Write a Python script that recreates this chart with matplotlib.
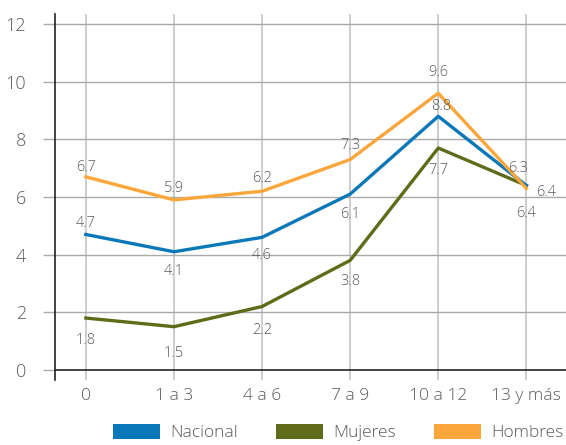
import numpy as np
import matplotlib.pyplot as plt
from matplotlib.patches import Patch

plt.rcParams['font.family'] = ['Open Sans', 'DejaVu Sans']
plt.rcParams['font.weight'] = 'light'

categories = ["0", "1 a 3", "4 a 6", "7 a 9", "10 a 12", "13 y más"]
nacional = [4.7, 4.1, 4.6, 6.1, 8.8, 6.4]
mujeres = [1.8, 1.5, 2.2, 3.8, 7.7, 6.4]
hombres = [6.7, 5.9, 6.2, 7.3, 9.6, 6.3]

c_nac = "#0a78b8"
c_muj = "#5f6b18"
c_hom = "#fba63a"
txt = "#5a5a5a"

fig = plt.figure(figsize=(5.66, 4.45), dpi=100)
ax = fig.add_axes([55 / 566, 1 - 380 / 445, 1 - 55 / 566, (380 - 14) / 445])

x = np.arange(len(categories))

# grid first, lines on top
for xi in x:
    ax.axvline(xi, color="#c9c9c9", lw=1.3, zorder=1)
for yv in range(2, 13, 2):
    ax.axhline(yv, color="#aaaaaa", lw=1.0, zorder=1)
ax.axhline(0, color="#222222", lw=1.2, zorder=2)

ax.plot(x, nacional, color=c_nac, lw=2.4, zorder=4)
ax.plot(x, mujeres, color=c_muj, lw=2.4, zorder=3)
ax.plot(x, hombres, color=c_hom, lw=2.4, zorder=5)

# value labels (offsets in points)
off_nac = [(0, 8), (0, -14), (0, -13), (0, -15), (2, 7), (0, -20)]
off_muj = [(0, -16), (0, -19), (0, -17), (0, -15), (0, -16), (14, -5)]
off_hom = [(0, 7), (0, 8), (0, 9), (0, 10), (0, 15), (-6, 14)]
for vals, offs in [(nacional, off_nac), (mujeres, off_muj), (hombres, off_hom)]:
    for xi, v, (dx, dy) in zip(x, vals, offs):
        ax.annotate(f"{v:.1f}", (xi, v), xytext=(dx, dy), textcoords="offset points",
                    ha="center", va="center", fontsize=10.5, color=txt, zorder=6)

ax.set_xlim(-0.35, 5.45)
ax.set_ylim(-0.35, 12.35)
ax.set_yticks(range(0, 13, 2))
ax.set_xticks(x)
ax.set_xticklabels(categories)
ax.tick_params(axis="y", length=9, width=1.0, color="#aaaaaa", pad=12,
               labelsize=13, labelcolor=txt)
ax.tick_params(axis="x", length=0, pad=6, labelsize=12.5, labelcolor=txt)
ax.get_yticklines()[0].set_color("#222222")

for side in ["top", "right", "bottom"]:
    ax.spines[side].set_visible(False)
ax.spines["left"].set_color("#222222")
ax.spines["left"].set_linewidth(1.2)
ax.patch.set_alpha(0)

handles = [Patch(facecolor=c_nac, label="Nacional"),
           Patch(facecolor=c_muj, label="Mujeres"),
           Patch(facecolor=c_hom, label="Hombres")]
leg = fig.legend(handles=handles, loc="upper center", bbox_to_anchor=(0.598, 0.048),
                 ncol=3, frameon=False, fontsize=12.5, handlelength=2.7,
                 handleheight=1.0, handletextpad=0.6, columnspacing=2.2,
                 borderaxespad=0, borderpad=0)
for t in leg.get_texts():
    t.set_color(txt)

fig.savefig("out.png", dpi=100)
